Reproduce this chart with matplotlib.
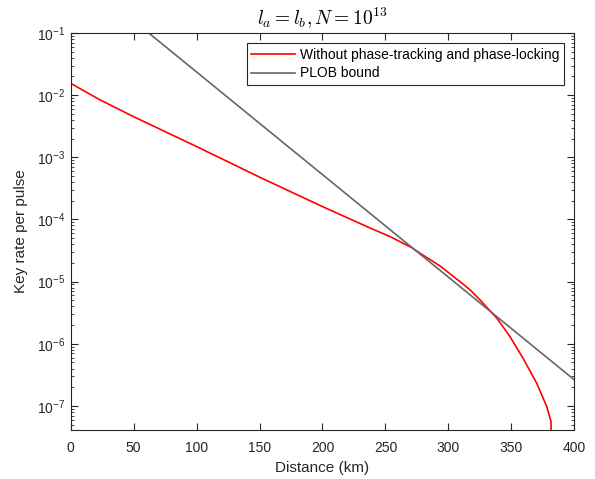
import matplotlib
matplotlib.use("Agg")
import matplotlib.pyplot as plt
from matplotlib.ticker import LogLocator, FixedLocator, NullFormatter

plt.rcParams['font.family'] = ['Liberation Sans', 'DejaVu Sans']
plt.rcParams['mathtext.fontset'] = 'custom'
plt.rcParams['mathtext.rm'] = 'Liberation Sans'
plt.rcParams['mathtext.it'] = 'Liberation Sans:italic'
plt.rcParams['mathtext.bf'] = 'Liberation Sans:bold'
plt.rcParams['axes.unicode_minus'] = False

# Data
dist_rate = [0, 10, 23.3, 50, 100, 150, 200, 237.7, 253.6, 270.8, 277.4, 293.3,
             309.2, 317.2, 325.1, 338.4, 348.9, 359.5, 370.1, 378.1, 381.5, 382.3]
key_rate = [1.55e-2, 1.19e-2, 8.4e-3, 4.5e-3, 1.49e-3, 4.8e-4, 1.61e-4, 7.3e-5,
            5.31e-5, 3.53e-5, 2.87e-5, 1.79e-5, 1.0e-5, 7.38e-6, 5.09e-6,
            2.59e-6, 1.31e-6, 5.75e-7, 2.33e-7, 9.8e-8, 5.6e-8, 1e-9]

dist_plob = [62, 100, 150, 200, 250, 300, 350, 400]
plob = [1.0e-1, 2.36e-2, 3.52e-3, 5.27e-4, 7.87e-5, 1.18e-5, 1.76e-6, 2.63e-7]

labels = ['Without phase-tracking and phase-locking', 'PLOB bound']
title = r'$l_a = l_b, N = 10^{13}$'
xticks = [0, 50, 100, 150, 200, 250, 300, 350, 400]

axc = (0.15, 0.15, 0.15)
fig = plt.figure(figsize=(5.95, 4.79), dpi=100)
ax = fig.add_axes([0.1188, 0.1023, 0.8464, 0.8288])

ax.plot(dist_rate, key_rate, color=(1, 0, 0), lw=1.2, label=labels[0])
ax.plot(dist_plob, plob, color=(0.4, 0.4, 0.4), lw=1.2, label=labels[1])

ax.set_yscale('log')
ax.set_xlim(0, 400)
ax.set_ylim(4.1e-8, 1e-1)
ax.xaxis.set_major_locator(FixedLocator(xticks))
ax.yaxis.set_major_locator(LogLocator(base=10, numticks=20))
ax.yaxis.set_minor_locator(LogLocator(base=10, subs=range(2, 10), numticks=20))
ax.yaxis.set_minor_formatter(NullFormatter())

for sp in ax.spines.values():
    sp.set_color(axc)
    sp.set_linewidth(0.8)
ax.tick_params(which='both', direction='in', top=True, right=True, colors=axc,
               labelcolor=axc, labelsize=10)
ax.tick_params(which='major', length=5)
ax.tick_params(which='minor', length=2.5)
ax.tick_params(axis='x', pad=8)
ax.tick_params(axis='y', pad=4)

ax.set_xlabel('Distance (km)', fontsize=11, color=axc, labelpad=4)
ax.set_ylabel('Key rate per pulse', fontsize=11, color=axc, labelpad=6)
ax.set_title(title, fontsize=14, math_fontfamily='cm', pad=6)

leg = ax.legend(loc='upper right', fontsize=10, frameon=True, fancybox=False,
                edgecolor=axc, framealpha=1, borderaxespad=0.75,
                handlelength=3.2, handletextpad=0.35, borderpad=0.3,
                labelspacing=0.35)
leg.get_frame().set_linewidth(0.8)

fig.savefig('out.png', dpi=100)
